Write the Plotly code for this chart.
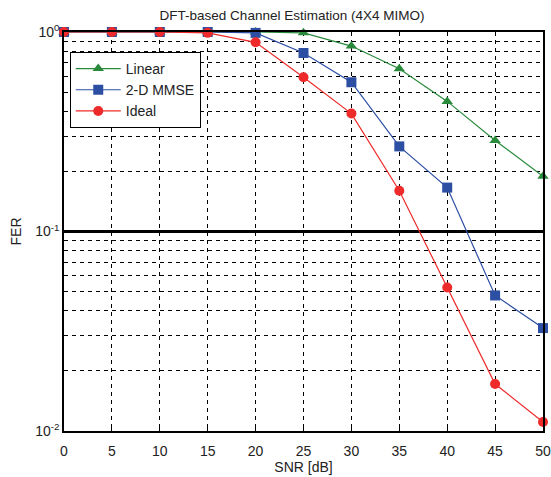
import plotly.graph_objects as go

snr = [0, 5, 10, 15, 20, 25, 30, 35, 40, 45, 50]
fer_linear = [1.0, 1.0, 1.0, 1.0, 1.0, 0.99, 0.85, 0.655, 0.449, 0.286, 0.189]
fer_mmse = [1.0, 1.0, 1.0, 1.0, 0.99, 0.785, 0.56, 0.267, 0.166, 0.0478, 0.0328]
fer_ideal = [1.0, 1.0, 1.0, 0.99, 0.888, 0.593, 0.39, 0.16, 0.0524, 0.0172, 0.0111]

names = ["Linear", "2-D MMSE", "Ideal"]
colors = ["#2a8a3c", "#2c4ea3", "#ee2a2a"]
symbols = ["triangle-up", "square", "circle"]
series = [fer_linear, fer_mmse, fer_ideal]

x_ticks = [0, 5, 10, 15, 20, 25, 30, 35, 40, 45, 50]
y_ticks = [1, 0.1, 0.01]
y_ticktext = ["10<sup>0</sup>", "10<sup>-1</sup>", "10<sup>-2</sup>"]
y_minor = [m * 10.0 ** k for k in (-2, -1) for m in range(2, 10)]
ref_level = 0.1

font = "Liberation Sans, Arial, sans-serif"
dash = "4px,4px"

fig = go.Figure()
for name, col, sym, ys in zip(names, colors, symbols, series):
    fig.add_trace(go.Scatter(
        x=snr, y=ys, name=name, mode="lines+markers",
        line=dict(color=col, width=1.2),
        marker=dict(symbol=sym, size=10, color=col, line=dict(width=0)),
        cliponaxis=False,
    ))

fig.add_hline(y=ref_level, line=dict(color="black", width=3), layer="below")

fig.update_layout(
    width=551, height=477,
    margin=dict(l=64, r=8, t=32, b=46, autoexpand=False),
    paper_bgcolor="white", plot_bgcolor="white",
    font=dict(family=font, size=14, color="#222"),
    title=dict(text="DFT-based Channel Estimation (4X4 MIMO)", xref="container", x=0.53,
               xanchor="center", yref="container", y=1 - 15 / 477, yanchor="middle",
               font=dict(size=13.5, family=font, color="#222")),
    legend=dict(x=0.012, y=0.95, xanchor="left", yanchor="top",
                bgcolor="white", bordercolor="black", borderwidth=1,
                font=dict(size=14, family=font, color="#222"), tracegroupgap=2,
                itemwidth=45),
    showlegend=True,
)
fig.update_xaxes(
    range=[0, 50], tickmode="array", tickvals=x_ticks, automargin=False,
    showline=True, linecolor="black", linewidth=1.5, mirror=True,
    ticks="inside", ticklen=5, tickcolor="black", ticklabelstandoff=6,
    showgrid=True, gridcolor="black", griddash=dash, gridwidth=1,
    zeroline=False,
    title=dict(text="SNR [dB]", font=dict(size=14, family=font), standoff=4),
    tickfont=dict(size=14),
)
fig.update_yaxes(
    type="log", range=[-2, 0], tickmode="array", tickvals=y_ticks, ticktext=y_ticktext,
    automargin=False,
    showline=True, linecolor="black", linewidth=1.5, mirror=True,
    ticks="inside", ticklen=5, tickcolor="black",
    showgrid=False,
    minor=dict(tickmode="array", tickvals=y_minor, showgrid=True, gridcolor="black",
               griddash=dash, gridwidth=1, ticks="inside", ticklen=3, tickcolor="black"),
    zeroline=False,
    title=dict(text="FER", font=dict(size=14, family=font), standoff=10),
    tickfont=dict(size=14),
)
fig.write_html("out.html", config={"displayModeBar": False},
               post_script="document.body.style.margin='0';document.body.style.overflow='hidden';")
